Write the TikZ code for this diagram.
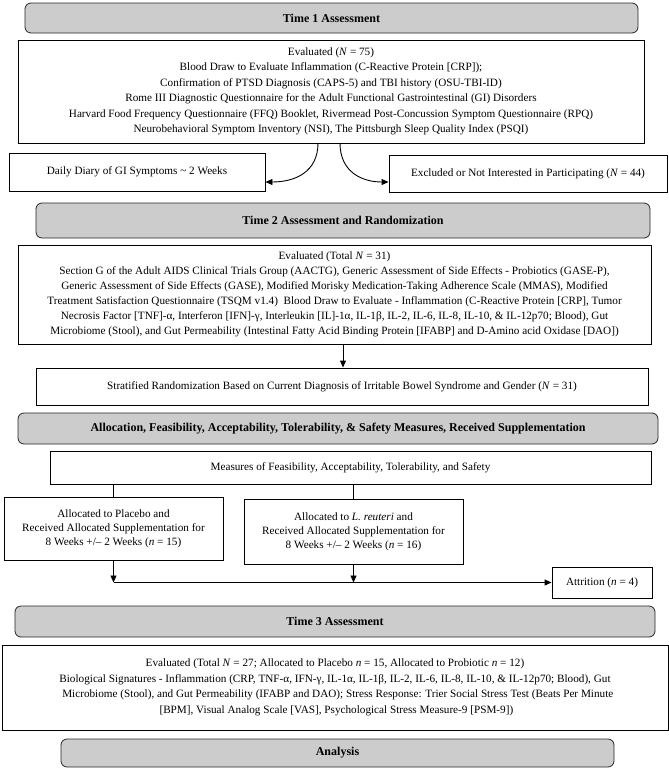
\documentclass[tikz,border=0pt]{standalone}
\usepackage{fontspec}
\setmainfont{Liberation Serif}
\usetikzlibrary{arrows.meta}
\begin{document}
\begin{tikzpicture}[x=1pt,y=-1pt,
  hdr/.style={draw=black!85, line width=0.8pt, rounded corners=6pt, fill=black!20, inner sep=0pt, font=\fontsize{12}{14}\selectfont\bfseries},
  bx/.style={draw=black, line width=0.9pt, fill=white, inner sep=0pt, align=center, font=\fontsize{11.2}{15.5}\selectfont},
  ln/.style={draw=black, line width=0.9pt},
  arr/.style={ln, -{Triangle[length=7pt,width=6pt]}}]
\useasboundingbox (0,0) rectangle (669,769);

\node[hdr, minimum width=613pt, minimum height=30pt] (h1) at (331.5,18) {Time 1 Assessment};
\node[bx, minimum width=626pt, minimum height=103pt] (e1) at (331,91.5) {Evaluated (\textit{N} = 75)\\
Blood Draw to Evaluate Inflammation (C-Reactive Protein [CRP]);\\
Confirmation of PTSD Diagnosis (CAPS-5) and TBI history (OSU-TBI-ID)\\
Rome III Diagnostic Questionnaire for the Adult Functional Gastrointestinal (GI) Disorders\\
Harvard Food Frequency Questionnaire (FFQ) Booklet, Rivermead Post-Concussion Symptom Questionnaire (RPQ)\\
Neurobehavioral Symptom Inventory (NSI), The Pittsburgh Sleep Quality Index (PSQI)};

\node[bx, minimum width=256pt, minimum height=38pt] (dd) at (137,172) {Daily Diary of GI Symptoms \textasciitilde{} 2 Weeks};
\node[bx, minimum width=278pt, minimum height=37pt] (ex) at (528,173.5) {Excluded or Not Interested in Participating (\textit{N} = 44)};

\coordinate (c1) at (318,143);
\coordinate (c2) at (340,143);
\draw[arr] (c1) .. controls (318,172) and (295,182) .. (dd.east |- 0,182);
\draw[arr] (c2) .. controls (340,172) and (362,182) .. (ex.west |- 0,182);

\node[hdr, minimum width=614pt, minimum height=35pt] (h2) at (343,220.5) {Time 2 Assessment and Randomization};
\node[bx, minimum width=633pt, minimum height=99pt, font=\fontsize{11.2}{15}\selectfont] (e2) at (334.5,294.5) {Evaluated (Total \textit{N} = 31)\\
Section G of the Adult AIDS Clinical Trials Group (AACTG), Generic Assessment of Side Effects - Probiotics (GASE-P),\\
Generic Assessment of Side Effects (GASE), Modified Morisky Medication-Taking Adherence Scale (MMAS), Modified\\
Treatment Satisfaction Questionnaire (TSQM v1.4)~ Blood Draw to Evaluate - Inflammation (C-Reactive Protein [CRP], Tumor\\
Necrosis Factor [TNF]-α, Interferon [IFN]-γ, Interleukin [IL]-1α, IL-1β, IL-2, IL-6, IL-8, IL-10, \& IL-12p70; Blood), Gut\\
Microbiome (Stool), and Gut Permeability (Intestinal Fatty Acid Binding Protein [IFABP] and D-Amino acid Oxidase [DAO])};

\node[bx, minimum width=612pt, minimum height=37pt] (st) at (342,386.5) {Stratified Randomization Based on Current Diagnosis of Irritable Bowel Syndrome and Gender (\textit{N} = 31)};
\draw[arr] (e2.south -| 343,0) -- (st.north -| 343,0);

\node[hdr, minimum width=640pt, minimum height=31pt] (al) at (338,428.5) {Allocation, Feasibility, Acceptability, Tolerability, \& Safety Measures, Received Supplementation};
\node[bx, minimum width=601pt, minimum height=33pt] (ms) at (350.5,467.5) {Measures of Feasibility, Acceptability, Tolerability, and Safety};

\node[bx, minimum width=219pt, minimum height=63pt, font=\fontsize{11.2}{14}\selectfont] (pl) at (113.5,528.5) {Allocated to Placebo and\\ Received Allocated Supplementation for\\ 8 Weeks +/– 2 Weeks (\textit{n} = 15)};
\node[bx, minimum width=219pt, minimum height=65pt, font=\fontsize{11.2}{14}\selectfont] (lr) at (353.5,531.5) {Allocated to \textit{L. reuteri} and\\ Received Allocated Supplementation for\\ 8 Weeks +/– 2 Weeks (\textit{n} = 16)};
\draw[ln] (ms.south -| pl.north) -- (pl.north);
\draw[ln] (ms.south -| lr.north) -- (lr.north);

\node[bx, minimum width=100pt, minimum height=31pt] (at) at (602,582.5) {Attrition (\textit{n} = 4)};
\coordinate (j1) at (pl.south |- at.west);
\coordinate (j2) at (lr.south |- at.west);
\draw[arr] (pl.south) -- (j1);
\draw[arr] (lr.south) -- (j2);
\draw[arr] (j1) -- (at.west);

\node[hdr, minimum width=640pt, minimum height=31pt] (h3) at (335,621.5) {Time 3 Assessment};
\node[bx, minimum width=666pt, minimum height=85pt, font=\fontsize{11.2}{15.5}\selectfont] (e3) at (335,687.5) {Evaluated (Total \textit{N} = 27; Allocated to Placebo \textit{n} = 15, Allocated to Probiotic \textit{n} = 12)\\
Biological Signatures - Inflammation (CRP, TNF-α, IFN-γ, IL-1α, IL-1β, IL-2, IL-6, IL-8, IL-10, \& IL-12p70; Blood), Gut\\
~~Microbiome (Stool), and Gut Permeability (IFABP and DAO); Stress Response: Trier Social Stress Test (Beats Per Minute\\{}
[BPM], Visual Analog Scale [VAS], Psychological Stress Measure-9 [PSM-9])};

\node[hdr, minimum width=553pt, minimum height=28pt] (an) at (337.5,753) {Analysis};
\end{tikzpicture}
\end{document}
